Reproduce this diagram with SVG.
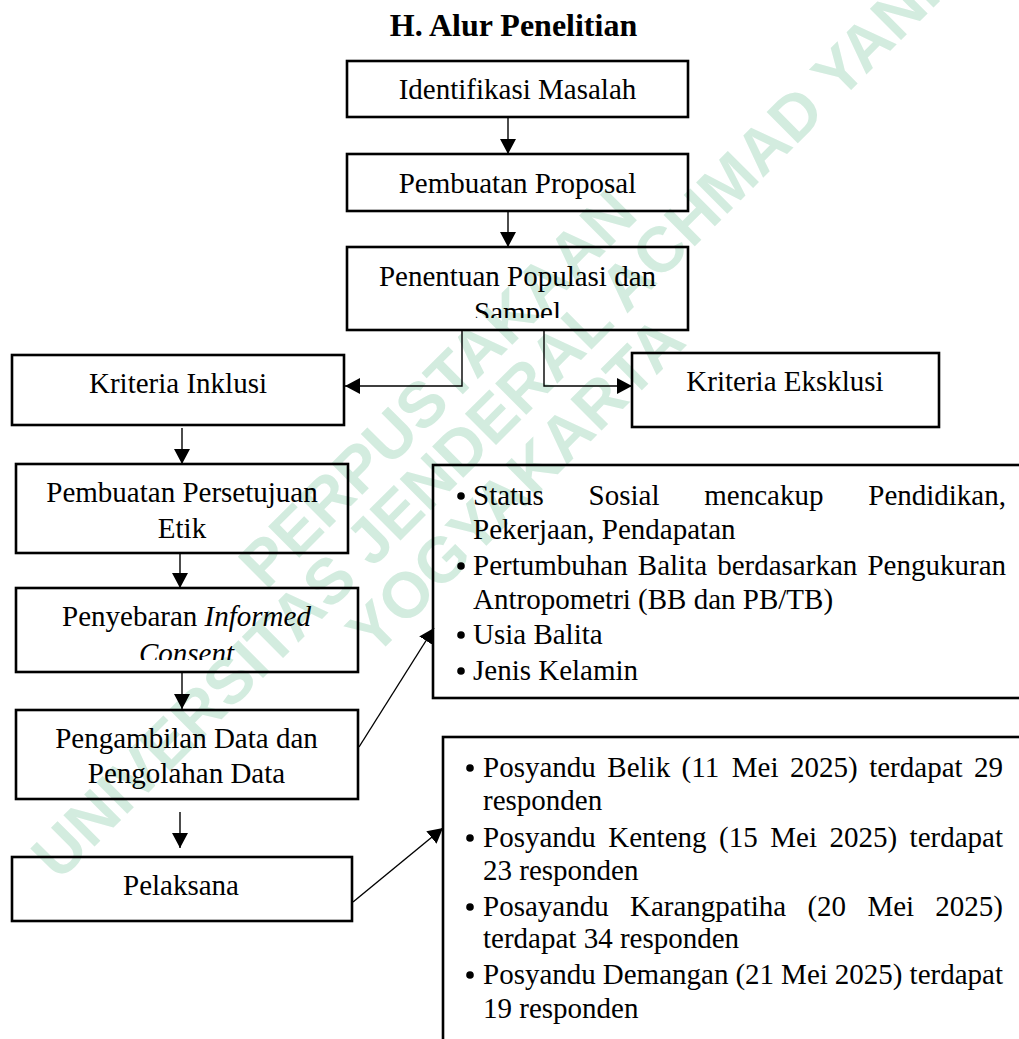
<svg xmlns="http://www.w3.org/2000/svg" width="1019" height="1039" viewBox="0 0 1019 1039">
<style>
.box{fill:none;stroke:#000;stroke-width:2.6}
.t{font-family:"Liberation Serif","Times New Roman",serif;font-size:29px;fill:#000}
.c{text-anchor:middle}
.e{text-anchor:end}
.i{font-style:italic}
.ttl{font-family:"Liberation Serif","Times New Roman",serif;font-size:32px;font-weight:bold;text-anchor:middle;fill:#000}
.cn{stroke:#000;stroke-width:1.4;fill:none}
.wm{font-family:"Liberation Sans",Arial,sans-serif;font-weight:bold;font-size:64px;fill:#d3ecdf;text-anchor:middle}
.b{fill:#000}
</style>
<defs>
<marker id="ah" viewBox="0 0 15 16" refX="15" refY="8" markerWidth="15" markerHeight="16" markerUnits="userSpaceOnUse" orient="auto">
<path d="M0,0 L15,8 L0,16 z" fill="#000"/>
</marker>
<clipPath id="clipC"><rect x="347" y="247" width="341" height="71"/></clipPath>
<clipPath id="clipG"><rect x="16" y="588" width="342" height="72"/></clipPath>
</defs>
<rect width="1019" height="1039" fill="#fff"/>
<g id="watermark">
<text class="wm" transform="translate(453,404) rotate(-45)">PERPUSTAKAAN</text>
<text class="wm" transform="translate(501,440) rotate(-45)">UNIVERSITAS JENDERAL ACHMAD YANI</text>
<text class="wm" transform="translate(531,501) rotate(-45)">YOGYAKARTA</text>
</g>
<text class="ttl" x="513.5" y="36">H. Alur Penelitian</text>
<g id="connectors">
<line class="cn" x1="508" y1="117" x2="508" y2="154" marker-end="url(#ah)"/>
<line class="cn" x1="508" y1="211" x2="508" y2="247" marker-end="url(#ah)"/>
<polyline class="cn" points="462,330 462,386 345,386" marker-end="url(#ah)"/>
<polyline class="cn" points="544,330 544,386 632,386" marker-end="url(#ah)"/>
<line class="cn" x1="182" y1="428" x2="182" y2="464" marker-end="url(#ah)"/>
<line class="cn" x1="180" y1="553" x2="180" y2="588" marker-end="url(#ah)"/>
<line class="cn" x1="182" y1="672" x2="182" y2="709" marker-end="url(#ah)"/>
<line class="cn" x1="180" y1="812" x2="180" y2="848" marker-end="url(#ah)"/>
<line class="cn" x1="359" y1="747" x2="434" y2="628" marker-end="url(#ah)"/>
<line class="cn" x1="353" y1="902" x2="443" y2="828" marker-end="url(#ah)"/>
</g>
<g id="identifikasi">
<rect class="box" x="347" y="61" width="341" height="56"/>
<text class="t c" x="517.5" y="99">Identifikasi Masalah</text>
</g>
<g id="proposal">
<rect class="box" x="347" y="154" width="341" height="57"/>
<text class="t c" x="517.5" y="193">Pembuatan Proposal</text>
</g>
<g id="populasi">
<rect class="box" x="347" y="247" width="341" height="83"/>
<text class="t c" x="517.5" y="286">Penentuan Populasi dan</text>
<text class="t c" x="517.5" y="322" clip-path="url(#clipC)">Sampel</text>
</g>
<g id="inklusi">
<rect class="box" x="12" y="355" width="332" height="70"/>
<text class="t c" x="178" y="393">Kriteria Inklusi</text>
</g>
<g id="eksklusi">
<rect class="box" x="632" y="353" width="307" height="74"/>
<text class="t c" x="785" y="391">Kriteria Eksklusi</text>
</g>
<g id="etik">
<rect class="box" x="16" y="464" width="332" height="89"/>
<text class="t c" x="182" y="502">Pembuatan Persetujuan</text>
<text class="t c" x="182" y="538">Etik</text>
</g>
<g id="informed">
<rect class="box" x="16" y="588" width="342" height="84"/>
<text class="t c" x="186.5" y="626">Penyebaran <tspan class="i">Informed</tspan></text>
<text class="t c i" x="186.5" y="663" clip-path="url(#clipG)">Consent</text>
</g>
<g id="pengambilan">
<rect class="box" x="16" y="710" width="342" height="89"/>
<text class="t c" x="186.5" y="748">Pengambilan Data dan</text>
<text class="t c" x="186.5" y="783">Pengolahan Data</text>
</g>
<g id="pelaksana">
<rect class="box" x="12" y="857" width="340" height="64"/>
<text class="t c" x="181" y="895">Pelaksana</text>
</g>
<g id="variabel">
<rect class="box" x="433" y="465" width="620" height="233"/>
<circle class="b" cx="461" cy="496" r="3.8"/>
<circle class="b" cx="461" cy="566" r="3.8"/>
<circle class="b" cx="461" cy="635" r="3.8"/>
<circle class="b" cx="461" cy="671" r="3.8"/>
<text class="t" y="505"><tspan x="473">Status</tspan><tspan x="588.6">Sosial</tspan><tspan x="704.3">mencakup</tspan><tspan x="1006" class="e">Pendidikan,</tspan></text>
<text class="t" x="473" y="539">Pekerjaan, Pendapatan</text>
<text class="t" y="575"><tspan x="473">Pertumbuhan</tspan><tspan x="637.8">Balita</tspan><tspan x="717.2">berdasarkan</tspan><tspan x="1006" class="e">Pengukuran</tspan></text>
<text class="t" x="473" y="609">Antropometri (BB dan PB/TB)</text>
<text class="t" x="473" y="644">Usia Balita</text>
<text class="t" x="473" y="680">Jenis Kelamin</text>
</g>
<g id="posyandu">
<rect class="box" x="443" y="737" width="620" height="400"/>
<circle class="b" cx="470" cy="768" r="3.8"/>
<circle class="b" cx="470" cy="838" r="3.8"/>
<circle class="b" cx="470" cy="907" r="3.8"/>
<circle class="b" cx="470" cy="975" r="3.8"/>
<text class="t" y="777"><tspan x="483">Posyandu</tspan><tspan x="607.3">Belik</tspan><tspan x="681.6">(11</tspan><tspan x="731.8">Mei</tspan><tspan x="790">2025)</tspan><tspan x="869.2">terdapat</tspan><tspan x="1003" class="e">29</tspan></text>
<text class="t" x="483" y="810">responden</text>
<text class="t" y="847"><tspan x="483">Posyandu</tspan><tspan x="608.3">Kenteng</tspan><tspan x="719.1">(15</tspan><tspan x="770.3">Mei</tspan><tspan x="829.5">2025)</tspan><tspan x="1003" class="e">terdapat</tspan></text>
<text class="t" x="483" y="880">23 responden</text>
<text class="t" y="916"><tspan x="483">Posayandu</tspan><tspan x="630">Karangpatiha</tspan><tspan x="807.4">(20</tspan><tspan x="867.4">Mei</tspan><tspan x="1003" class="e">2025)</tspan></text>
<text class="t" x="483" y="948">terdapat 34 responden</text>
<text class="t" y="984"><tspan x="483">Posyandu</tspan><tspan x="602.8">Demangan</tspan><tspan x="735.4">(21</tspan><tspan x="781.1">Mei</tspan><tspan x="834.8">2025)</tspan><tspan x="1003" class="e">terdapat</tspan></text>
<text class="t" x="483" y="1018">19 responden</text>
</g>
</svg>
